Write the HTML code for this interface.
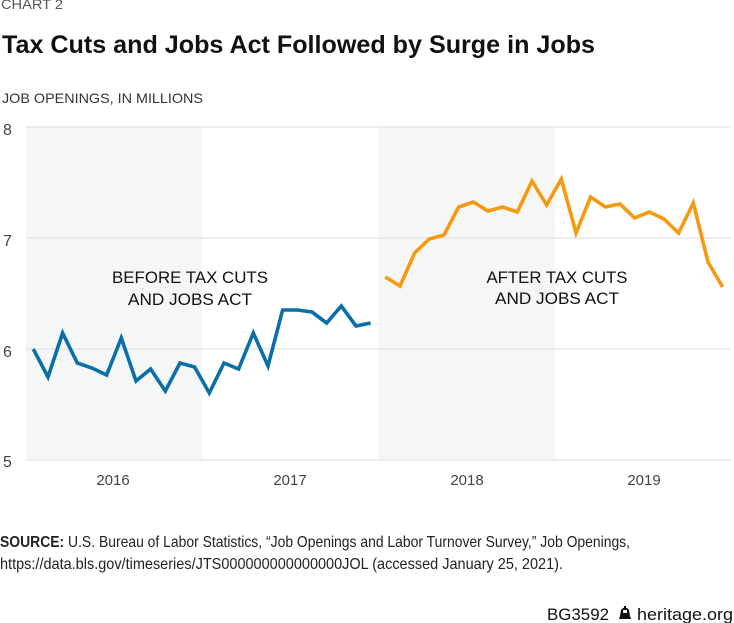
<!DOCTYPE html>
<html>
<head>
<meta charset="utf-8">
<style>
html,body{margin:0;padding:0;background:#fff;}
body{width:734px;height:623px;overflow:hidden;}
svg{display:block;font-family:"Liberation Sans",sans-serif;}
</style>
</head>
<body>
<svg width="734" height="623" viewBox="0 0 734 623" xmlns="http://www.w3.org/2000/svg">
  <!-- header -->
  <text x="1" y="9" font-size="14" fill="#555" textLength="62" lengthAdjust="spacingAndGlyphs">CHART 2</text>
  <text x="2" y="53" font-size="25" font-weight="bold" fill="#111" textLength="593" lengthAdjust="spacingAndGlyphs">Tax Cuts and Jobs Act Followed by Surge in Jobs</text>
  <text x="2" y="103" font-size="14" fill="#333" textLength="201" lengthAdjust="spacingAndGlyphs">JOB OPENINGS, IN MILLIONS</text>

  <!-- bands -->
  <rect x="26" y="127" width="176" height="333" fill="#f5f7f7"/>
  <rect x="378" y="127" width="177" height="333" fill="#f5f7f7"/>

  <!-- gridlines -->
  <g stroke="#e2e4e4" stroke-width="1.3">
    <line x1="26" y1="127" x2="731" y2="127"/>
    <line x1="26" y1="238" x2="731" y2="238"/>
    <line x1="26" y1="349" x2="731" y2="349"/>
    <line x1="26" y1="460" x2="731" y2="460"/>
  </g>

  <!-- y labels -->
  <g font-size="16" fill="#444">
    <text x="3" y="135">8</text>
    <text x="3" y="246">7</text>
    <text x="3" y="357">6</text>
    <text x="3" y="467">5</text>
  </g>

  <!-- x labels -->
  <g font-size="15" fill="#444" text-anchor="middle">
    <text x="113" y="485">2016</text>
    <text x="290" y="485">2017</text>
    <text x="467" y="485">2018</text>
    <text x="644" y="485">2019</text>
  </g>

  <!-- annotations -->
  <g font-size="17" fill="#111" text-anchor="middle">
    <text x="190" y="283" textLength="156" lengthAdjust="spacingAndGlyphs">BEFORE TAX CUTS</text>
    <text x="190" y="305" textLength="124" lengthAdjust="spacingAndGlyphs">AND JOBS ACT</text>
    <text x="557" y="283" textLength="141" lengthAdjust="spacingAndGlyphs">AFTER TAX CUTS</text>
    <text x="557" y="304" textLength="124" lengthAdjust="spacingAndGlyphs">AND JOBS ACT</text>
  </g>

  <!-- series -->
  <polyline fill="none" stroke="#0a6fa8" stroke-width="3.6" stroke-linejoin="miter" stroke-miterlimit="4"
    points="33.3,349 48,377 62.6,333 77.3,363 92,368 106.6,375 121.3,338 136,381 150.6,369 165.3,391 180,363 194.6,367 209.3,393 224,363 238.6,369 253.3,333 268,366 282.6,310 297.3,310 312,312 326.6,323 341.3,306 356,326 370.6,323"/>
  <polyline fill="none" stroke="#f7990f" stroke-width="3.6" stroke-linejoin="miter" stroke-miterlimit="4"
    points="385.3,277 400,286 414.6,253 429.3,239 444,235 458.6,207 473.3,202 488,211 502.6,207 517.3,212 532,181 546.6,205 561.3,179 576,233 590.6,197 605.3,207 620,204 634.6,218 649.3,212 664,219 678.6,233 693.3,203 708,262 722.6,287"/>

  <!-- source -->
  <text x="0" y="547" font-size="16" fill="#222" textLength="630" lengthAdjust="spacingAndGlyphs"><tspan font-weight="bold">SOURCE:</tspan> U.S. Bureau of Labor Statistics, “Job Openings and Labor Turnover Survey,” Job Openings,</text>
  <text x="0" y="569" font-size="16" fill="#222" textLength="563" lengthAdjust="spacingAndGlyphs">https://data.bls.gov/timeseries/JTS000000000000000JOL (accessed January 25, 2021).</text>

  <!-- footer -->
  <text x="547" y="620" font-size="17" fill="#111" textLength="62" lengthAdjust="spacingAndGlyphs">BG3592</text>
  <path d="M619,619 L620,616 L621,610 Q625,605 629,610 L630,616 L631,619 Z M623,610 L627,610 L627,613 L623,613 Z" fill="#111" fill-rule="evenodd"/>
  <rect x="624" y="606" width="2" height="2" fill="#111"/>
  <text x="637" y="620" font-size="17" fill="#111" textLength="96" lengthAdjust="spacingAndGlyphs">heritage.org</text>
</svg>
</body>
</html>
